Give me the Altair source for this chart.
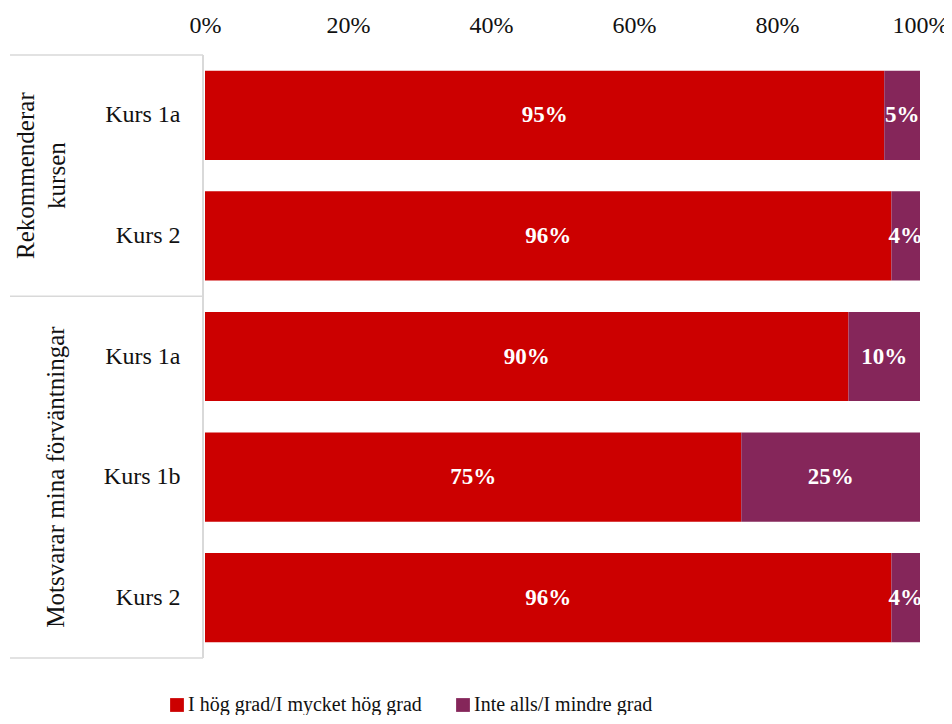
import altair as alt
import pandas as pd

# ---- data ----
groups = ["Rekommenderar kursen", "Rekommenderar kursen",
          "Motsvarar mina förväntningar", "Motsvarar mina förväntningar",
          "Motsvarar mina förväntningar"]
courses = ["Kurs 1a", "Kurs 2", "Kurs 1a", "Kurs 1b", "Kurs 2"]
high = [95, 96, 90, 75, 96]
low = [5, 4, 10, 25, 4]
series = ["I hög grad/I mycket hög grad", "Inte alls/I mindre grad"]
colors = ["#CC0000", "#85265A"]
group_labels = ["Rekommenderar\nkursen", "Motsvarar mina förväntningar"]
group_sizes = [2, 3]
x_ticks = [0, 20, 40, 60, 80, 100]

FONT = "Liberation Serif"
W, H = 715, 603

rows = [f"{g}|{c}" for g, c in zip(groups, courses)]
recs = []
for r, h, l in zip(rows, high, low):
    recs.append({"row": r, "series": series[0], "value": h, "order": 0})
    recs.append({"row": r, "series": series[1], "value": l, "order": 1})
df = pd.DataFrame(recs)

# group centres / boundaries in row units
centers, bounds, acc = [], [0], 0
for s in group_sizes:
    centers.append(acc + s / 2)
    acc += s
    bounds.append(acc)
gdf = pd.DataFrame({"label": group_labels, "pos": centers, "gi": [0, 1]})
bdf = pd.DataFrame({"b": bounds})

yscale = alt.Scale(domain=rows, paddingInner=0.26, paddingOuter=0.13)
qscale = alt.Scale(domain=[0, sum(group_sizes)], reverse=True, nice=False, zero=False)
xscale = alt.Scale(domain=[0, 100], nice=False)

base = alt.Chart(df).transform_stack(
    stack="value", as_=["x0", "x1"], groupby=["row"], sort=[alt.SortField("order")]
).transform_calculate(mid="(datum.x0 + datum.x1) / 2", lbl="datum.value + '%'")

bars = base.mark_bar().encode(
    y=alt.Y("row:N", scale=yscale, title=None,
            axis=alt.Axis(labelExpr="split(datum.label, '|')[1]", domain=False,
                          ticks=False, labelFont=FONT, labelFontSize=24,
                          labelColor="#111111", labelPadding=25, labelAlign="right")),
    x=alt.X("x0:Q", scale=xscale, title=None,
            axis=alt.Axis(orient="top", values=x_ticks, labelExpr="datum.value + '%'",
                          domain=False, ticks=False, grid=False, labelFont=FONT,
                          labelFontSize=24, labelColor="#111111", labelPadding=18,
                          labelFlush=False)),
    x2="x1:Q",
    color=alt.Color("series:N", scale=alt.Scale(domain=series, range=colors),
                    legend=alt.Legend(orient="none", legendX=-38, legendY=640,
                                      direction="horizontal", title=None,
                                      symbolType="square", symbolSize=190,
                                      symbolStrokeWidth=0, labelFont=FONT,
                                      labelFontSize=20, labelColor="#111111",
                                      labelLimit=0, columnPadding=31, labelOffset=1)),
    order=alt.Order("order:Q"),
)

labels = base.mark_text(color="white", fontWeight="bold", font=FONT, fontSize=23,
                        baseline="middle", align="center", clip=True).encode(
    y=alt.Y("row:N", scale=yscale, axis=None),
    x=alt.X("mid:Q", scale=xscale),
    text="lbl:N",
)

g1 = alt.Chart(gdf).transform_filter("datum.gi == 0").mark_text(
    angle=270, font=FONT, fontSize=25, color="#111111", lineBreak="\n",
    lineHeight=31, align="center", baseline="middle").encode(
    x=alt.value(-179), y=alt.Y("pos:Q", scale=qscale, axis=None), text="label:N")

g2 = alt.Chart(gdf).transform_filter("datum.gi == 1").mark_text(
    angle=270, font=FONT, fontSize=25, color="#111111", lineBreak="\n",
    align="center", baseline="middle").encode(
    x=alt.value(-149), y=alt.Y("pos:Q", scale=qscale, axis=None), text="label:N")

hrules = alt.Chart(bdf).mark_rule(color="#D9D9D9", strokeWidth=1.5).encode(
    y=alt.Y("b:Q", scale=qscale, axis=None), x=alt.value(-195), x2=alt.value(-2))

vrule = alt.Chart(bdf).mark_rule(color="#D9D9D9", strokeWidth=1.5).encode(
    x=alt.value(-2), y=alt.value(0), y2=alt.value(H))

chart = alt.layer(bars, labels, hrules, vrule, g1, g2).resolve_scale(
    y="independent"
).properties(
    width=W, height=H,
    autosize=alt.AutoSizeParams(type="none"),
    padding={"left": 197, "top": 47, "right": 24, "bottom": 57},
).configure_view(stroke=None)

chart.save("out.html", embed_options={"renderer": "svg", "actions": False})
